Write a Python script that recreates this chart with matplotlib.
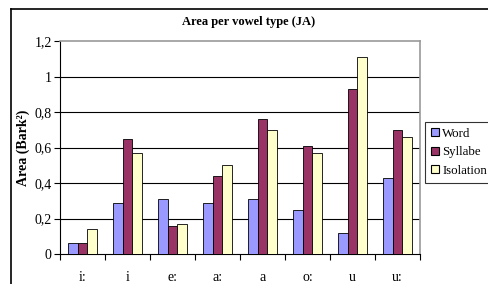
import matplotlib
matplotlib.use("Agg")
import matplotlib.pyplot as plt
import numpy as np
from matplotlib.lines import Line2D

categories = ["i:", "i", "e:", "a:", "a", "o:", "u", "u:"]
word = [0.06, 0.29, 0.31, 0.29, 0.31, 0.25, 0.12, 0.43]
syllabe = [0.06, 0.65, 0.16, 0.44, 0.76, 0.61, 0.93, 0.70]
isolation = [0.14, 0.57, 0.17, 0.50, 0.70, 0.57, 1.11, 0.66]
series_names = ["Word", "Syllabe", "Isolation"]
colors = ["#9999FF", "#993366", "#FFFFCC"]
yticks = [0, 0.2, 0.4, 0.6, 0.8, 1.0, 1.2]
ytick_labels = ["0", "0,2", "0,4", "0,6", "0,8", "1", "1,2"]

plt.rcParams['font.family'] = ['Liberation Serif', 'DejaVu Serif']

W, H = 488, 284
fig = plt.figure(figsize=(W / 100, H / 100), dpi=100)

# outer chart border (top and left visible)
fig.add_artist(Line2D([11 / W, 1.0], [1 - 9 / H, 1 - 9 / H], color="black", lw=1.2, transform=fig.transFigure))
fig.add_artist(Line2D([11 / W, 11 / W], [0, 1 - 9 / H], color="black", lw=1.2, transform=fig.transFigure))

left, right, top, bottom = 60, 420, 41, 254
ax = fig.add_axes([left / W, 1 - bottom / H, (right - left) / W, (bottom - top) / H])

x = np.arange(len(categories))
bw = 0.222
for i, (vals, c, name) in enumerate(zip([word, syllabe, isolation], colors, series_names)):
    ax.bar(x + (i - 1) * bw, vals, width=bw, color=c, edgecolor="black", linewidth=0.6, label=name, zorder=3)

ax.set_xlim(-0.5, len(categories) - 0.5)
ax.set_ylim(0, 1.2)
ax.set_yticks(yticks)
ax.set_yticklabels(ytick_labels, fontsize=10)
for yv in yticks[1:-1]:
    ax.axhline(yv, color="black", lw=0.8, zorder=1)

ax.set_xticks(x)
ax.set_xticklabels(categories, fontsize=10)
ax.tick_params(axis="x", length=0, pad=12)
ax.set_xticks(np.arange(len(categories) + 1) - 0.5, minor=True)
ax.tick_params(axis="x", which="minor", length=4, direction="out", width=0.8)
ax.tick_params(axis="y", length=4, direction="out", width=0.8, pad=2)

ax.spines["left"].set_color("black")
ax.spines["bottom"].set_color("black")
ax.spines["top"].set_color("#999999")
ax.spines["right"].set_color("#999999")
ax.spines["top"].set_linewidth(1.2)
ax.spines["right"].set_linewidth(1.2)

ax.set_ylabel("Area (Bark²)", fontsize=10, fontweight="bold", labelpad=3)
fig.text(249 / W, 1 - 22 / H, "Area per vowel type (JA)", fontsize=9, fontweight="bold", ha="center", va="center")

leg = fig.legend(loc="upper left", bbox_to_anchor=(425 / W, 1 - 122 / H), fontsize=9.3,
                 frameon=True, fancybox=False, edgecolor="black", handlelength=0.6, handleheight=0.6,
                 handletextpad=0.3, borderpad=0.45, labelspacing=0.5, borderaxespad=0)
leg.get_frame().set_linewidth(0.8)
for h in leg.legend_handles:
    h.set_edgecolor("black")
    h.set_linewidth(0.8)

fig.savefig("out.png", dpi=100)
